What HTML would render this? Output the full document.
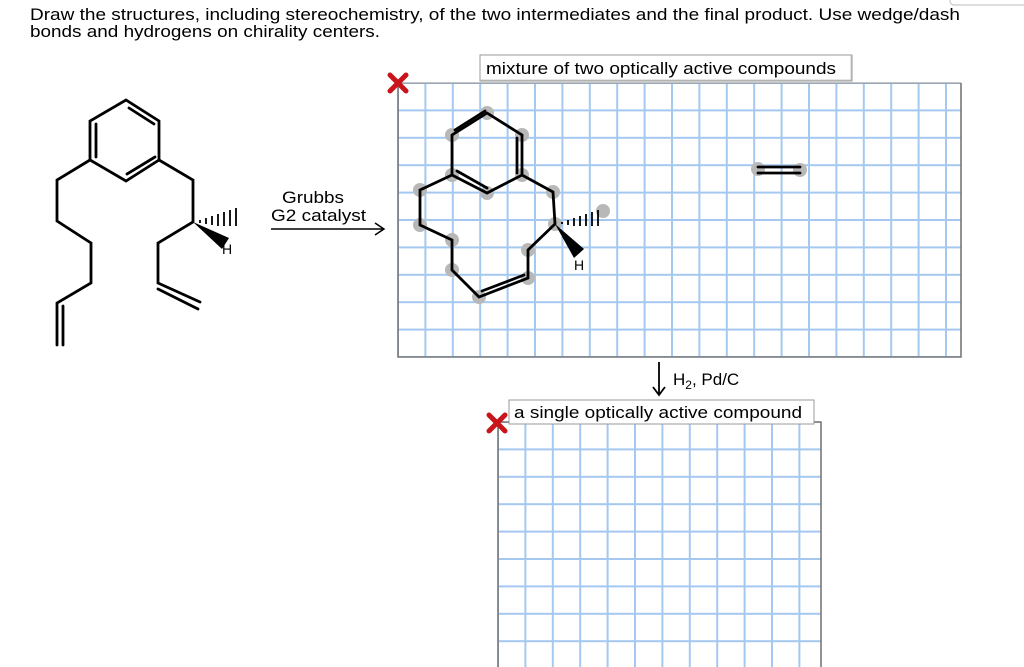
<!DOCTYPE html>
<html><head><meta charset="utf-8"><style>
html,body{margin:0;padding:0;background:#fff;width:1024px;height:667px;overflow:hidden}
svg{display:block}
text{font-family:"Liberation Sans",Arial,sans-serif;fill:#000}
</style></head><body>
<svg width="1024" height="667" viewBox="0 0 1024 667" xmlns="http://www.w3.org/2000/svg">
<defs>
<pattern id="g" x="397" y="82" width="27.4" height="27.4" patternUnits="userSpaceOnUse">
<path d="M1 0V27.4M0 1H27.4" stroke="#a4c8f0" stroke-width="2" fill="none"/>
</pattern>
<pattern id="g2" x="497" y="421" width="27.4" height="27.4" patternUnits="userSpaceOnUse">
<path d="M1 0V27.4M0 1H27.4" stroke="#a4c8f0" stroke-width="2" fill="none"/>
</pattern>
</defs>
<rect x="950" y="-6" width="80" height="11" rx="4" fill="#fff" stroke="#bbb"/>
<text x="30" y="20" font-size="16.5" textLength="930" lengthAdjust="spacingAndGlyphs">Draw the structures, including stereochemistry, of the two intermediates and the final product. Use wedge/dash</text>
<text x="30" y="37" font-size="16.5" textLength="350" lengthAdjust="spacingAndGlyphs">bonds and hydrogens on chirality centers.</text>

<!-- left molecule -->
<g stroke="#000" stroke-width="2.8" fill="none" stroke-linecap="round">
<path d="M126 100L159 121L159 160L126 181L90 160L90 121Z"/>
<path d="M129 108L154 124M96 124V157M155 157L127 174"/>
<path d="M90 160L57 180V221L91 243V283L57 303V345M63 306V345"/>
<path d="M159 160L193 180V222L158 243V283L200 302M158 289L198 309"/>
</g>
<g stroke="#000" stroke-width="1.8">
<path d="M200 220v3M206 218v6M212 216v9M218 214v12M224 212v14M230 210v16M236 208v18"/>
</g>
<path d="M193 222L229 238L222 249Z" fill="#000"/>
<text x="222" y="254" font-size="14">H</text>
<text x="282" y="203" font-size="16.5" textLength="62" lengthAdjust="spacingAndGlyphs">Grubbs</text>
<text x="271" y="221" font-size="16.5" textLength="95" lengthAdjust="spacingAndGlyphs">G2 catalyst</text>
<path d="M271 229H384M375 223L384 229L375 235" stroke="#000" stroke-width="1.5" fill="none"/>

<!-- top box -->
<rect x="398" y="83" width="563" height="274" fill="url(#g)"/>
<path d="M398 83V357H961V83" stroke="#777" stroke-width="1.6" fill="none"/>
<path d="M398 83H961" stroke="#888" stroke-width="1"/>
<rect x="480" y="55" width="372" height="26" fill="#fff" stroke="#999"/>
<path d="M481 80H851V56" stroke="#ccc" fill="none"/>
<text x="486" y="74" font-size="17" textLength="350" lengthAdjust="spacingAndGlyphs">mixture of two optically active compounds</text>
<g transform="translate(398,83)"><path d="M-8 -8L8 8M8 -8L-8 8" stroke="#c8141a" stroke-width="5" stroke-linecap="round"/></g>

<g fill="#b8b8b8">
<circle cx="487" cy="113" r="7"/><circle cx="522" cy="135" r="7"/><circle cx="522" cy="175" r="7"/>
<circle cx="487" cy="193" r="7"/><circle cx="452" cy="175" r="7"/><circle cx="452" cy="135" r="7"/>
<circle cx="420" cy="190" r="7"/><circle cx="420" cy="225" r="7"/><circle cx="452" cy="240" r="7"/>
<circle cx="452" cy="270" r="7"/><circle cx="479" cy="297" r="7"/><circle cx="528" cy="278" r="7"/>
<circle cx="528" cy="250" r="7"/><circle cx="555" cy="224" r="7"/><circle cx="553" cy="192" r="7"/>
<circle cx="603" cy="211" r="7"/><circle cx="758" cy="169" r="7"/><circle cx="800" cy="170" r="7"/>
</g>
<g stroke="#000" stroke-width="2.8" fill="none" stroke-linecap="round">
<path d="M487 113L522 135V175L487 193L452 175V135Z"/>
<path d="M455 130L485 111M517 138V173M457 171L487 188"/>
<path d="M452 175L420 190V225L452 240V270L479 297L528 278V250L555 224L553 192L522 175"/>
<path d="M482 291L524 275"/>
<path d="M758 167H800M758 173H800"/>
</g>
<g stroke="#000" stroke-width="1.8">
<path d="M562 222v2M568 220v5M574 218v8M580 216v10M586 214v12M592 212v14M598 210v16"/>
</g>
<path d="M555 224L584 249L574 258Z" fill="#000"/>
<text x="574" y="270" font-size="14">H</text>

<!-- reagent -->
<path d="M659 362V394M653 387L659 395L665 387" stroke="#000" stroke-width="1.8" fill="none"/>
<text x="673" y="385" font-size="17">H<tspan font-size="12" dy="4">2</tspan><tspan dy="-4">, Pd/C</tspan></text>

<!-- bottom box -->
<rect x="498" y="422" width="323" height="250" fill="url(#g2)"/>
<path d="M498 667V422H821V667" stroke="#777" stroke-width="1.6" fill="none"/>
<rect x="509" y="400" width="305" height="24" fill="#fff" stroke="#999"/>
<text x="514" y="418" font-size="17" textLength="288" lengthAdjust="spacingAndGlyphs">a single optically active compound</text>
<g transform="translate(497,423)"><path d="M-8 -8L8 8M8 -8L-8 8" stroke="#c8141a" stroke-width="5" stroke-linecap="round"/></g>
</svg>
</body></html>
